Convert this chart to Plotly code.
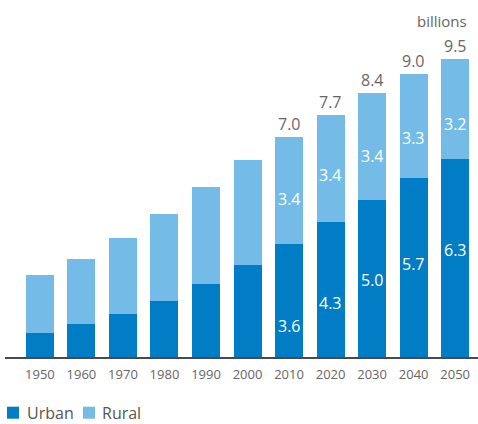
import plotly.graph_objects as go

# World population, urban vs rural (billions)
years = ["1950", "1960", "1970", "1980", "1990", "2000",
         "2010", "2020", "2030", "2040", "2050"]
urban = [0.77, 1.06, 1.38, 1.79, 2.33, 2.94, 3.6, 4.3, 5.0, 5.7, 6.3]
rural = [1.85, 2.07, 2.42, 2.77, 3.09, 3.34, 3.4, 3.4, 3.4, 3.3, 3.2]
labelled = ["2010", "2020", "2030", "2040", "2050"]

URBAN_C = "#007DC5"
RURAL_C = "#74BCE7"
FONT = "Open Sans"

# vertical placement of the in-bar labels, as a share of each segment
urban_lbl_frac = {"2010": 0.27, "2020": 0.40, "2030": 0.49, "2040": 0.52, "2050": 0.54}
rural_lbl_frac = {"2010": 0.42, "2020": 0.44, "2030": 0.41, "2040": 0.39, "2050": 0.35}

fig = go.Figure()
fig.add_trace(go.Bar(x=years, y=urban, name="Urban", marker_color=URBAN_C,
                     marker_line_width=0))
fig.add_trace(go.Bar(x=years, y=rural, name="Rural", marker_color=RURAL_C,
                     marker_line_width=0))

ann = []
for i, yr in enumerate(years):
    if yr not in labelled:
        continue
    u, r = urban[i], rural[i]
    total = round(u + r, 1)
    # category axis: annotations are placed by category index
    ann.append(dict(x=i, y=total, text=f"{total:.1f}", showarrow=False,
                    yanchor="bottom", yshift=0,
                    font=dict(family=FONT, size=16, color="#666666")))
    ann.append(dict(x=i, y=u * urban_lbl_frac[yr], text=f"{u:.1f}",
                    showarrow=False, yanchor="middle",
                    font=dict(family=FONT, size=16, color="white")))
    ann.append(dict(x=i, y=u + r * rural_lbl_frac[yr], text=f"{r:.1f}",
                    showarrow=False, yanchor="middle",
                    font=dict(family=FONT, size=16, color="white")))

# unit note
ann.append(dict(xref="paper", yref="paper", x=1, y=1, xanchor="right",
                yanchor="bottom", yshift=10, xshift=-9, text="billions",
                showarrow=False, font=dict(family=FONT, size=15, color="#666666")))

# legend drawn as swatches + text
shapes = []
legend_items = [("Urban", URBAN_C, 7, 25), ("Rural", RURAL_C, 83, 100)]
for name, col, sx, tx in legend_items:
    shapes.append(dict(type="rect", xref="paper", yref="paper",
                       x0=(sx - 5) / 473, x1=(sx + 7) / 473,
                       y0=-(407 - 357.3) / 314 - 12 / 314, y1=-(407 - 357.3) / 314,
                       fillcolor=col, line_width=0))
    ann.append(dict(xref="paper", yref="paper", x=(tx - 5) / 473,
                    y=-(413 - 357.3) / 314, xanchor="left", yanchor="middle",
                    text=name, showarrow=False,
                    font=dict(family=FONT, size=16, color="#555555")))

fig.update_layout(
    barmode="stack",
    bargap=0.325,
    width=478, height=424,
    margin=dict(l=5, r=0, t=43, b=67),
    paper_bgcolor="white", plot_bgcolor="white",
    showlegend=False,
    annotations=ann,
    shapes=shapes,
    xaxis=dict(type="category", range=[-0.84, 10.55], showline=True,
               linecolor="#4a4a4a", linewidth=1.5, ticks="", showgrid=False,
               tickfont=dict(family=FONT, size=13, color="#666666"),
               ticklabelstandoff=5),
    yaxis=dict(range=[0, 10], visible=False, showgrid=False),
)

fig.write_html("out.html")
